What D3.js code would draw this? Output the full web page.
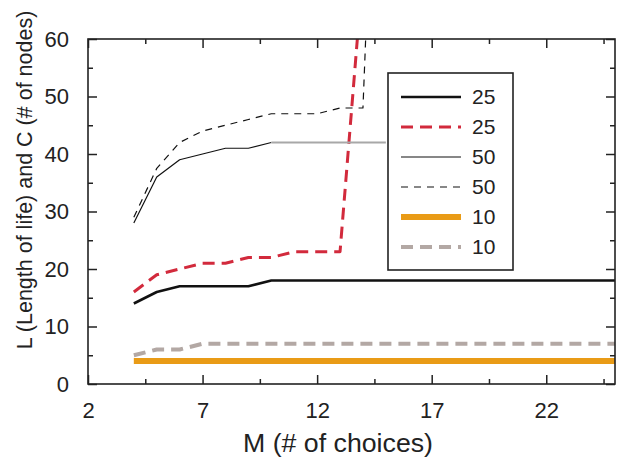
<!DOCTYPE html>
<html>
<head>
<meta charset="utf-8">
<script src="https://cdn.jsdelivr.net/npm/d3@7"></script>
<style>
  html, body { margin: 0; padding: 0; background: #fff; }
  svg { display: block; font-family: "Liberation Sans", Arial, Helvetica, sans-serif; }
</style>
</head>
<body>
<svg id="chart" width="621" height="462"></svg>
<script>
'use strict';

// ── Data ─────────────────────────────────────────────────────
const M_AXIS_TICKS = [2, 7, 12, 17, 22];
const Y_AXIS_TICKS = [0, 10, 20, 30, 40, 50, 60];

// L, N=25 (thick black solid)
const L25_M = [4, 5, 6, 7, 8, 9, 10, 11, 12, 13, 14, 15, 16, 17, 18, 19, 20, 21, 22, 23, 24, 25];
const L25_V = [14, 16, 17, 17, 17, 17, 18, 18, 18, 18, 18, 18, 18, 18, 18, 18, 18, 18, 18, 18, 18, 18];

// C, N=25 (red dashed)
const C25_M = [4, 5, 6, 7, 8, 9, 10, 11, 12, 13, 14];
const C25_V = [16, 19, 20, 21, 21, 22, 22, 23, 23, 23, 72];

// L, N=50 (thin solid)
const L50_M = [4, 5, 6, 7, 8, 9, 10, 11, 12, 13, 14, 15];
const L50_V = [28, 36, 39, 40, 41, 41, 42, 42, 42, 42, 42, 42];

// C, N=50 (thin dashed)
const C50_M = [4, 5, 6, 7, 8, 9, 10, 11, 12, 13, 14, 15];
const C50_V = [29, 37.5, 42, 44, 45, 46, 47, 47, 47, 48, 48, 150];

// L, N=10 (orange)
const L10_M = [4, 5, 6, 7, 8, 9, 10, 11, 12, 13, 14, 15, 16, 17, 18, 19, 20, 21, 22, 23, 24, 25];
const L10_V = [4, 4, 4, 4, 4, 4, 4, 4, 4, 4, 4, 4, 4, 4, 4, 4, 4, 4, 4, 4, 4, 4];

// C, N=10 (beige dashed)
const C10_M = [4, 5, 6, 7, 8, 9, 10, 11, 12, 13, 14, 15, 16, 17, 18, 19, 20, 21, 22, 23, 24, 25];
const C10_V = [5, 6, 6, 7, 7, 7, 7, 7, 7, 7, 7, 7, 7, 7, 7, 7, 7, 7, 7, 7, 7, 7];

const LEGEND_LABELS = ['25', '25', '50', '50', '10', '10'];

// ── Styles ───────────────────────────────────────────────────
const STYLE = {
  L25: { color: '#111111', width: 2.6, dash: null },
  C25: { color: '#d22a3c', width: 3,   dash: '12,7' },
  L50: { color: '#111111', width: 1.2, dash: null },
  C50: { color: '#111111', width: 1.2, dash: '7,6' },
  L10: { color: '#e99b16', width: 6,   dash: null },
  C10: { color: '#b3a8a4', width: 4,   dash: '12,7' },
};

// ── Layout ───────────────────────────────────────────────────
const PLOT = { left: 88, right: 615, top: 39, bottom: 384 };

const svg = d3.select('#chart');

const x = d3.scaleLinear().domain([2, 25]).range([PLOT.left, PLOT.right]);
const y = d3.scaleLinear().domain([0, 60]).range([PLOT.bottom, PLOT.top]);

function zip(ms, vs) { return ms.map((m, i) => ({ m, v: vs[i] })); }

svg.append('clipPath').attr('id', 'plot-clip')
  .append('rect')
  .attr('x', PLOT.left).attr('y', PLOT.top)
  .attr('width', PLOT.right - PLOT.left)
  .attr('height', PLOT.bottom - PLOT.top);

const line = d3.line().x(d => x(d.m)).y(d => y(d.v));

const lines = svg.append('g').attr('clip-path', 'url(#plot-clip)');

function drawSeries(data, st, color) {
  lines.append('path')
    .datum(data)
    .attr('d', line)
    .attr('fill', 'none')
    .attr('stroke', color || st.color)
    .attr('stroke-width', st.width)
    .attr('stroke-dasharray', st.dash)
    .attr('stroke-linejoin', 'round');
}

drawSeries(zip(C10_M, C10_V), STYLE.C10);
drawSeries(zip(L10_M, L10_V), STYLE.L10);
drawSeries(zip(L25_M, L25_V), STYLE.L25);
drawSeries(zip(C25_M, C25_V), STYLE.C25);
// thin solid N=50: black up to M=10, then grey
const l50 = zip(L50_M, L50_V);
drawSeries(l50.filter(d => d.m <= 10), STYLE.L50);
drawSeries(l50.filter(d => d.m >= 10), { ...STYLE.L50, width: 2 }, '#a8a8a8');
drawSeries(zip(C50_M, C50_V), STYLE.C50);

// ── Axes (ticks inward, mirrored) ────────────────────────────
const xMinor = d3.range(4.5, 25, 5);
const yMinor = d3.range(5, 60, 10);

const axes = svg.append('g');

axes.append('g')
  .attr('transform', `translate(0,${PLOT.bottom})`)
  .call(d3.axisBottom(x).tickValues(M_AXIS_TICKS).tickSizeInner(-9).tickSizeOuter(0).tickPadding(18))
  .call(g => g.selectAll('text').attr('font-size', 22).attr('fill', '#222'));

axes.append('g')
  .attr('transform', `translate(0,${PLOT.bottom})`)
  .call(d3.axisBottom(x).tickValues(xMinor).tickSizeInner(-5).tickSizeOuter(0).tickFormat(''));

axes.append('g')
  .attr('transform', `translate(0,${PLOT.top})`)
  .call(d3.axisTop(x).tickValues(M_AXIS_TICKS).tickSizeInner(-9).tickSizeOuter(0).tickFormat(''));
axes.append('g')
  .attr('transform', `translate(0,${PLOT.top})`)
  .call(d3.axisTop(x).tickValues(xMinor).tickSizeInner(-5).tickSizeOuter(0).tickFormat(''));

axes.append('g')
  .attr('transform', `translate(${PLOT.left},0)`)
  .call(d3.axisLeft(y).tickValues(Y_AXIS_TICKS).tickSizeInner(-9).tickSizeOuter(0).tickPadding(19))
  .call(g => g.selectAll('text').attr('font-size', 22).attr('fill', '#222'));
axes.append('g')
  .attr('transform', `translate(${PLOT.left},0)`)
  .call(d3.axisLeft(y).tickValues(yMinor).tickSizeInner(-5).tickSizeOuter(0).tickFormat(''));

axes.append('g')
  .attr('transform', `translate(${PLOT.right},0)`)
  .call(d3.axisRight(y).tickValues(Y_AXIS_TICKS).tickSizeInner(-9).tickSizeOuter(0).tickFormat(''));
axes.append('g')
  .attr('transform', `translate(${PLOT.right},0)`)
  .call(d3.axisRight(y).tickValues(yMinor).tickSizeInner(-5).tickSizeOuter(0).tickFormat(''));

axes.selectAll('.domain').remove();
axes.selectAll('line').attr('stroke', '#222').attr('stroke-width', 1.5);

svg.append('rect')
  .attr('x', PLOT.left).attr('y', PLOT.top)
  .attr('width', PLOT.right - PLOT.left)
  .attr('height', PLOT.bottom - PLOT.top)
  .attr('fill', 'none').attr('stroke', '#222').attr('stroke-width', 1.6);

// ── Titles ───────────────────────────────────────────────────
svg.append('text')
  .attr('x', 338).attr('y', 452)
  .attr('text-anchor', 'middle')
  .attr('font-size', 25).attr('fill', '#222')
  .attr('textLength', 190).attr('lengthAdjust', 'spacingAndGlyphs')
  .text('M (# of choices)');

svg.append('text')
  .attr('transform', 'translate(32,180) rotate(-90)')
  .attr('text-anchor', 'middle')
  .attr('font-size', 21.5).attr('fill', '#222')
  .text('L (Length of life) and C (# of nodes)');

// ── Legend ───────────────────────────────────────────────────
const LEG = { x: 388, y: 73, w: 125, h: 197, row0: 97, rowH: 30 };
const legend = svg.append('g');
legend.append('rect')
  .attr('x', LEG.x).attr('y', LEG.y).attr('width', LEG.w).attr('height', LEG.h)
  .attr('fill', '#fff').attr('stroke', '#222').attr('stroke-width', 1.6);

const legendStyles = [STYLE.L25, STYLE.C25, STYLE.L50, STYLE.C50, STYLE.L10, STYLE.C10];
legendStyles.forEach((st, i) => {
  const yy = LEG.row0 + i * LEG.rowH;
  legend.append('line')
    .attr('x1', 401).attr('x2', 461).attr('y1', yy).attr('y2', yy)
    .attr('stroke', st.color).attr('stroke-width', st.width)
    .attr('stroke-dasharray', st.dash);
  legend.append('text')
    .attr('x', 472).attr('y', yy).attr('dy', '0.35em')
    .attr('font-size', 21).attr('fill', '#222')
    .text(LEGEND_LABELS[i]);
});
</script>
</body>
</html>
